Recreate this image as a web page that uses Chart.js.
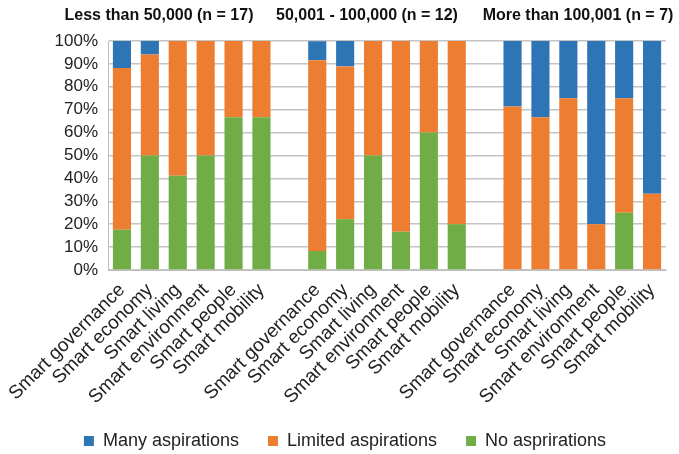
<!DOCTYPE html>
<html>
<head>
<meta charset="utf-8">
<script src="https://cdn.jsdelivr.net/npm/chart.js@4/dist/chart.umd.min.js"></script>
<style>
  html, body { margin: 0; padding: 0; background: #fff; }
  #wrap { width: 679px; height: 454px; }
</style>
</head>
<body>
<div id="wrap"><canvas id="chart"></canvas></div>
<script>
// data
const categories = ['Smart governance', 'Smart economy', 'Smart living', 'Smart environment', 'Smart people', 'Smart mobility'];
const groupTitles = ['Less than 50,000 (n = 17)', '50,001 - 100,000 (n = 12)', 'More than 100,001 (n = 7)'];
const seriesNames = ['No asprirations', 'Limited aspirations', 'Many aspirations'];

// one value per bar, null in the gap between groups
const noAspirations      = [17.6, 50.0, 41.2, 50.0, 66.7, 66.7, null,  8.3, 22.2, 50.0, 16.7, 60.0, 20.0, null,  0.0,  0.0,  0.0,  0.0, 25.0,  0.0];
const limitedAspirations = [70.6, 44.1, 58.8, 50.0, 33.3, 33.3, null, 83.3, 66.7, 50.0, 83.3, 40.0, 80.0, null, 71.4, 66.7, 75.0, 20.0, 50.0, 33.3];
const manyAspirations    = [11.8,  5.9,  0.0,  0.0,  0.0,  0.0, null,  8.3, 11.1,  0.0,  0.0,  0.0,  0.0, null, 28.6, 33.3, 25.0, 80.0, 25.0, 66.7];

const yTicks = [0, 10, 20, 30, 40, 50, 60, 70, 80, 90, 100];

// labels: three groups with an empty slot between them
const labels = [];
groupTitles.forEach((g, i) => {
  if (i > 0) labels.push('');
  categories.forEach(c => labels.push(c));
});

const colors = { no: '#70AD47', limited: '#ED7D31', many: '#2E75B6' };
const titleX = [159, 367, 578];

// group headers above the plot
const groupTitlePlugin = {
  id: 'groupTitles',
  afterDraw(chart) {
    const c = chart.ctx;
    c.save();
    c.font = 'bold 16px "Liberation Sans", Arial, sans-serif';
    c.fillStyle = '#111';
    c.textAlign = 'center';
    c.textBaseline = 'middle';
    groupTitles.forEach((t, i) => c.fillText(t, titleX[i], 16));
    c.restore();
  }
};

Chart.defaults.font.family = '"Liberation Sans", Arial, sans-serif';
Chart.defaults.color = '#222';

const ctx = document.getElementById('chart').getContext('2d');
new Chart(ctx, {
  type: 'bar',
  data: {
    labels: labels,
    datasets: [
      { label: seriesNames[0], data: noAspirations, backgroundColor: colors.no },
      { label: seriesNames[1], data: limitedAspirations, backgroundColor: colors.limited },
      { label: seriesNames[2], data: manyAspirations, backgroundColor: colors.many }
    ]
  },
  options: {
    responsive: true,
    maintainAspectRatio: false,
    animation: false,
    datasets: { bar: { categoryPercentage: 1, barPercentage: 0.65 } },
    layout: { padding: { top: 41, right: 13, left: 24, bottom: 0 } },
    plugins: {
      legend: {
        position: 'bottom',
        reverse: true,
        maxHeight: 51,
        labels: { boxWidth: 10, boxHeight: 10, padding: 29, font: { size: 18 }, color: '#222' }
      },
      tooltip: { enabled: false }
    },
    scales: {
      x: {
        stacked: true,
        grid: { display: false },
        border: { display: true, color: '#BFBFBF', width: 1 },
        ticks: { autoSkip: false, minRotation: 45, maxRotation: 45, font: { size: 19 }, color: '#222', padding: 1 },
        afterFit: scale => { scale.height = 133; }
      },
      y: {
        stacked: true,
        min: 0,
        max: 100,
        afterBuildTicks: axis => { axis.ticks = yTicks.map(v => ({ value: v })); },
        grid: { color: '#C4C4C4', lineWidth: 1.5, drawTicks: false },
        border: { display: true, color: '#BFBFBF', width: 1 },
        ticks: { autoSkip: false, callback: v => v + '%', font: { size: 17 }, color: '#222', padding: 10 },
        afterFit: scale => { scale.width = 84; }
      }
    }
  },
  plugins: [groupTitlePlugin]
});
</script>
</body>
</html>
